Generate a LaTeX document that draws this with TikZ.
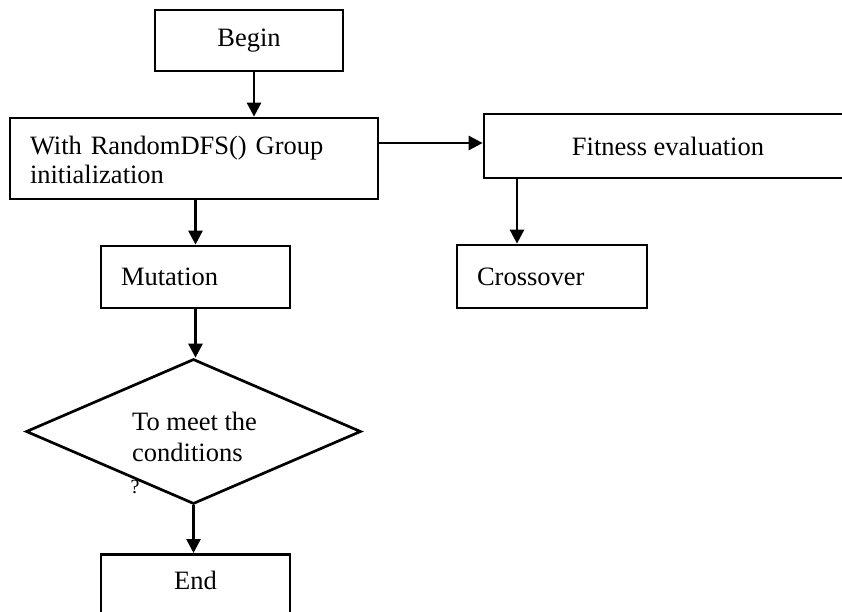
\documentclass[tikz,border=0pt]{standalone}
\usepackage{fontspec}
\setmainfont{Liberation Serif}
\usetikzlibrary{arrows.meta,shapes.geometric}
\begin{document}
\begin{tikzpicture}[x=1pt,y=-1pt,
  every node/.style={font=\fontsize{26.5}{29}\selectfont},
  box/.style={draw, line width=2.7pt, rectangle, inner sep=0pt},
  leftbox/.style={box, align=left, inner xsep=20pt},
  arr/.style={line width=2.7pt, -{Triangle[length=14pt,width=14pt]}}]
\useasboundingbox (0,0) rectangle (842,612);
\fill[white] (0,0) rectangle (842,612);

\node[box, minimum width=188pt, minimum height=61pt] (begin) at (249,40.5) {Begin};
\node[leftbox, minimum width=368pt, minimum height=81pt, text width=328pt] (init) at (194,158.5)
  {\strut With RandomDFS() Group\\initialization};
\node[box, minimum width=368pt, minimum height=64pt] (fitness) at (668,146) {Fitness evaluation};
\node[leftbox, minimum width=190pt, minimum height=63pt, text width=150pt] (cross) at (552,276.5) {Crossover};
\node[leftbox, minimum width=189pt, minimum height=62pt, text width=149pt] (mut) at (195.5,277) {Mutation};
\node[draw, line width=2.7pt, diamond, minimum width=335pt, minimum height=145pt, inner sep=0pt] (cond) at (193.5,431.5) {};
\node[anchor=west, align=left, inner sep=0pt, font=\fontsize{26.5}{31}\selectfont] (condtext) at (132,437) {To meet the\\conditions};
\node[inner sep=0pt, font=\fontsize{20}{22}\selectfont] (q) at (135,487) {?};
\node[box, minimum width=189pt, text height=35pt, text depth=52pt, inner ysep=0pt, anchor=north] (end) at (195.5,553) {End};

\draw[arr] ([xshift=5pt]begin.south) -- ([xshift=5pt]begin.south |- init.north);
\draw[arr] ([yshift=15.5pt]init.east) -- ([yshift=15.5pt]init.east -| fitness.west);
\draw[arr] (init.south -| mut.north) -- (mut.north);
\draw[arr] ([xshift=-35pt]cross.north |- fitness.south) -- ([xshift=-35pt]cross.north);
\draw[arr] (mut.south) -- (mut.south |- cond.north);
\draw[arr] (cond.south) -- (cond.south |- end.north);
\end{tikzpicture}
\end{document}
